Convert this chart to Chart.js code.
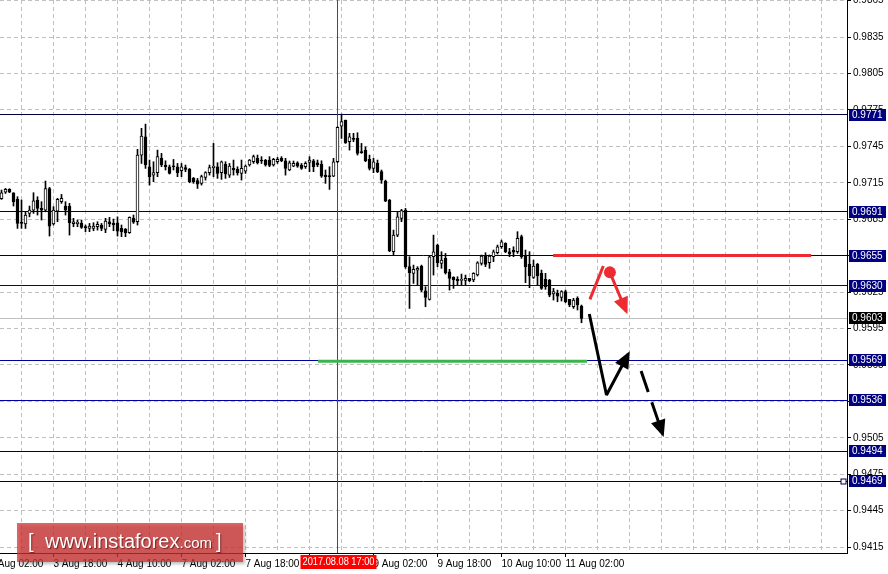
<!DOCTYPE html>
<html>
<head>
<meta charset="utf-8">
<script src="https://cdn.jsdelivr.net/npm/chart.js@4.4.0/dist/chart.umd.min.js"></script>
<style>
  html, body { margin: 0; padding: 0; background: #fff; }
  #wrap { width: 888px; height: 574px; position: relative; }
</style>
</head>
<body>
<div id="wrap"><canvas id="myChart"></canvas></div>
<script>
/* H1 candles, 3 Aug 05:00 .. 11 Aug 06:00 */
var opens = [0.97019,0.97073,0.97095,0.97068,0.97013,0.96826,0.96810,0.96898,0.96925,0.97008,
  0.96939,0.96925,0.97103,0.96810,0.96917,0.96994,0.96958,0.96958,0.96813,0.96813,
  0.96815,0.96788,0.96774,0.96774,0.96788,0.96802,0.96766,0.96829,0.96815,0.96821,
  0.96774,0.96766,0.96739,0.96857,0.96829,0.97378,0.97529,0.97282,0.97213,0.97233,
  0.97351,0.97296,0.97282,0.97290,0.97282,0.97249,0.97274,0.97260,0.97186,0.97167,
  0.97145,0.97194,0.97233,0.97274,0.97282,0.97233,0.97301,0.97213,0.97268,0.97260,
  0.97227,0.97246,0.97296,0.97323,0.97351,0.97337,0.97337,0.97337,0.97296,0.97323,
  0.97351,0.97331,0.97255,0.97287,0.97315,0.97296,0.97282,0.97318,0.97331,0.97315,
  0.97304,0.97213,0.97205,0.97205,0.97323,0.97617,0.97666,0.97488,0.97515,0.97515,
  0.97406,0.97419,0.97342,0.97268,0.97309,0.97241,0.97164,0.97008,0.96582,0.96719,
  0.96857,0.96925,0.96459,0.96404,0.96431,0.96464,0.96261,0.96190,0.96541,0.96637,
  0.96486,0.96527,0.96417,0.96371,0.96354,0.96346,0.96346,0.96362,0.96349,0.96390,
  0.96486,0.96546,0.96491,0.96541,0.96574,0.96623,0.96651,0.96582,0.96596,0.96582,
  0.96706,0.96546,0.96480,0.96371,0.96478,0.96404,0.96354,0.96349,0.96234,0.96239,
  0.96206,0.96253,0.96190,0.96129,0.96198,0.96135];
var highs = [0.97090,0.97103,0.97101,0.97068,0.97035,0.97008,0.96911,0.96958,0.97068,0.97035,
  0.96994,0.97164,0.97112,0.96953,0.97021,0.97054,0.96994,0.96980,0.96857,0.96843,
  0.96843,0.96802,0.96815,0.96821,0.96829,0.96815,0.96857,0.96865,0.96851,0.96869,
  0.96802,0.96774,0.96869,0.96884,0.97425,0.97598,0.97633,0.97337,0.97323,0.97419,
  0.97392,0.97331,0.97296,0.97342,0.97309,0.97309,0.97296,0.97268,0.97194,0.97186,
  0.97213,0.97241,0.97296,0.97474,0.97315,0.97329,0.97323,0.97309,0.97337,0.97282,
  0.97337,0.97296,0.97342,0.97378,0.97378,0.97365,0.97342,0.97365,0.97351,0.97359,
  0.97365,0.97351,0.97329,0.97329,0.97323,0.97309,0.97323,0.97365,0.97342,0.97337,
  0.97331,0.97255,0.97282,0.97351,0.97611,0.97716,0.97666,0.97557,0.97557,0.97562,
  0.97474,0.97446,0.97378,0.97351,0.97337,0.97255,0.97172,0.97013,0.96760,0.96911,
  0.96931,0.96939,0.96541,0.96472,0.96459,0.96472,0.96294,0.96546,0.96719,0.96645,
  0.96582,0.96568,0.96437,0.96376,0.96376,0.96398,0.96390,0.96362,0.96409,0.96500,
  0.96555,0.96574,0.96555,0.96596,0.96637,0.96678,0.96656,0.96610,0.96623,0.96747,
  0.96719,0.96596,0.96582,0.96513,0.96486,0.96431,0.96404,0.96354,0.96280,0.96266,
  0.96261,0.96266,0.96190,0.96198,0.96211,0.96143];
var lows = [0.97013,0.97062,0.97068,0.96958,0.96774,0.96774,0.96774,0.96869,0.96898,0.96884,
  0.96843,0.96911,0.96711,0.96802,0.96829,0.96980,0.96884,0.96719,0.96788,0.96788,
  0.96774,0.96747,0.96747,0.96755,0.96760,0.96755,0.96739,0.96788,0.96755,0.96711,
  0.96706,0.96706,0.96733,0.96815,0.96802,0.97309,0.97268,0.97131,0.97159,0.97200,
  0.97282,0.97255,0.97222,0.97255,0.97200,0.97200,0.97241,0.97150,0.97145,0.97103,
  0.97131,0.97172,0.97213,0.97200,0.97186,0.97178,0.97186,0.97194,0.97213,0.97213,
  0.97172,0.97227,0.97287,0.97309,0.97304,0.97309,0.97287,0.97282,0.97287,0.97309,
  0.97323,0.97213,0.97249,0.97282,0.97277,0.97260,0.97268,0.97241,0.97241,0.97282,
  0.97194,0.97145,0.97095,0.97200,0.97315,0.97515,0.97474,0.97419,0.97488,0.97378,
  0.97392,0.97323,0.97255,0.97233,0.97233,0.97145,0.96994,0.96582,0.96555,0.96706,
  0.96829,0.96445,0.96115,0.96321,0.96308,0.96253,0.96129,0.96184,0.96390,0.96459,
  0.96445,0.96398,0.96266,0.96280,0.96308,0.96308,0.96308,0.96335,0.96335,0.96382,
  0.96472,0.96459,0.96445,0.96500,0.96563,0.96610,0.96574,0.96541,0.96541,0.96568,
  0.96527,0.96327,0.96286,0.96362,0.96308,0.96272,0.96272,0.96211,0.96184,0.96170,
  0.96176,0.96162,0.96129,0.96115,0.96102,0.95997];
var closes = [0.97068,0.97095,0.97073,0.96994,0.96815,0.96815,0.96884,0.96925,0.97002,0.96939,
  0.96925,0.97103,0.96793,0.96925,0.97013,0.97021,0.96925,0.96821,0.96829,0.96826,
  0.96782,0.96780,0.96793,0.96793,0.96807,0.96774,0.96835,0.96810,0.96802,0.96752,
  0.96747,0.96739,0.96865,0.96826,0.97378,0.97534,0.97296,0.97200,0.97233,0.97365,
  0.97296,0.97282,0.97227,0.97282,0.97233,0.97282,0.97260,0.97159,0.97159,0.97139,
  0.97200,0.97233,0.97274,0.97287,0.97227,0.97323,0.97222,0.97287,0.97255,0.97233,
  0.97268,0.97287,0.97337,0.97365,0.97315,0.97329,0.97296,0.97293,0.97342,0.97342,
  0.97329,0.97268,0.97315,0.97309,0.97287,0.97268,0.97309,0.97337,0.97282,0.97296,
  0.97205,0.97200,0.97200,0.97323,0.97606,0.97653,0.97479,0.97529,0.97507,0.97392,
  0.97397,0.97331,0.97268,0.97323,0.97241,0.97172,0.96999,0.96588,0.96719,0.96869,
  0.96920,0.96459,0.96409,0.96437,0.96445,0.96266,0.96206,0.96541,0.96582,0.96491,
  0.96513,0.96409,0.96362,0.96349,0.96343,0.96354,0.96362,0.96343,0.96404,0.96491,
  0.96546,0.96478,0.96546,0.96582,0.96623,0.96664,0.96582,0.96563,0.96579,0.96692,
  0.96541,0.96459,0.96382,0.96464,0.96382,0.96280,0.96294,0.96225,0.96253,0.96217,
  0.96253,0.96170,0.96143,0.96184,0.96143,0.96033];

// time axis labels (bar index -> text)
var xTickIdx = [-3, 13, 29, 45, 61, 77, 93, 109, 125, 141];
var xTickText = ['3 Aug 02:00', '3 Aug 18:00', '4 Aug 10:00', '7 Aug 02:00', '7 Aug 18:00',
  '8 Aug 10:00', '9 Aug 02:00', '9 Aug 18:00', '10 Aug 10:00', '11 Aug 02:00'];
var yTicks = [0.9415, 0.9445, 0.9475, 0.9505, 0.9535, 0.9565, 0.9595, 0.9625, 0.9655,
  0.9685, 0.9715, 0.9745, 0.9775, 0.9805, 0.9835, 0.9865];

// horizontal levels
var levelValues = [0.9771, 0.9691, 0.9655, 0.9630, 0.9569, 0.9536, 0.9494, 0.9469];
var levelColors = ['#000040', '#000040', '#000040', '#0000a0', '#0000a0', '#0000a0', '#000040', '#000040'];

// vertical line
var crossIdx = 84;
var crossText = '2017.08.08 17:00';

// drawn objects (bar index, price)
var redLevel = [{x: 137.9, y: 0.9655}, {x: 202.4, y: 0.9655}];
var greenLevel = [{x: 79.1, y: 0.9568}, {x: 146.4, y: 0.9568}];
var redUp = [{x: 147.1, y: 0.9619}, {x: 150.45, y: 0.96464}];
var redDot = [{x: 152.1, y: 0.96412}];
var redDown = [{x: 152.1, y: 0.96412}, {x: 156.2, y: 0.96090}];
var blackPath = [{x: 146.95, y: 0.96069}, {x: 151.25, y: 0.95402}, {x: 156.7, y: 0.95740}];
var blackDash = [{x: 159.9, y: 0.95599}, {x: 165.3, y: 0.95080}];

var yMin = 0.94101, yMax = 0.98655;
var xMin = -0.375, xMax = 211.375;

var axisFont = { family: "'Liberation Sans', Arial, sans-serif", size: 10 };

var idx = opens.map(function (v, i) { return i; });
var wickData = idx.map(function (i) { return { x: i, y: [lows[i], highs[i]] }; });
var bodyData = idx.map(function (i) { return { x: i, y: [opens[i], closes[i]] }; });
var bodyFill = idx.map(function (i) { return closes[i] >= opens[i] ? '#ffffff' : '#000000'; });

function fontStr(f) { return f.size + 'px ' + f.family; }

var mtPlugin = {
  id: 'mt',
  beforeDatasetsDraw: function (chart) {
    var c = chart.ctx, a = chart.chartArea;
    var ys = chart.scales.y, xs = chart.scales.x;
    c.save();
    c.lineWidth = 1;
    // current price line
    var py = Math.floor(ys.getPixelForValue(closes[closes.length - 1])) + 0.5;
    c.strokeStyle = '#c0c0c0';
    c.beginPath(); c.moveTo(a.left, py); c.lineTo(a.right, py); c.stroke();
    levelValues.forEach(function (v, k) {
      var y = Math.floor(ys.getPixelForValue(v)) + 0.5;
      c.strokeStyle = levelColors[k];
      c.beginPath(); c.moveTo(a.left, y); c.lineTo(a.right, y); c.stroke();
    });
    // anchor square of the lowest level
    var ly = Math.floor(ys.getPixelForValue(levelValues[levelValues.length - 1])) + 0.5;
    c.fillStyle = '#ffffff';
    c.strokeStyle = '#000040';
    c.fillRect(a.right - 6, ly - 2.5, 5, 5);
    c.strokeRect(a.right - 6, ly - 2.5, 5, 5);
    var cx = Math.floor(xs.getPixelForValue(crossIdx)) + 0.5;
    c.strokeStyle = '#ff0000';
    c.beginPath(); c.moveTo(cx, a.top); c.lineTo(cx, a.bottom); c.stroke();
    c.restore();
  },
  afterDatasetsDraw: function (chart) {
    var c = chart.ctx;
    chart.data.datasets.forEach(function (ds, di) {
      if (!ds.arrow) return;
      var pts = chart.getDatasetMeta(di).data;
      var p = pts[pts.length - 2], q = pts[pts.length - 1];
      var ang = Math.atan2(q.y - p.y, q.x - p.x);
      var co = Math.cos(ang), si = Math.sin(ang);
      var tx = q.x + 3 * co, ty = q.y + 3 * si;
      var len = 17, hw = 7.5;
      c.save();
      c.fillStyle = ds.borderColor;
      c.beginPath();
      c.moveTo(tx, ty);
      c.lineTo(tx - len * co + hw * si, ty - len * si - hw * co);
      c.lineTo(tx - len * co - hw * si, ty - len * si + hw * co);
      c.closePath();
      c.fill();
      c.restore();
    });
  },
  afterDraw: function (chart) {
    var c = chart.ctx, a = chart.chartArea;
    var ys = chart.scales.y, xs = chart.scales.x;
    c.save();
    c.font = fontStr(axisFont);
    c.textBaseline = 'middle';
    c.textAlign = 'left';
    function box(v, bg) {
      var y = Math.round(ys.getPixelForValue(v));
      c.fillStyle = bg;
      c.fillRect(a.right + 2, y - 6, 37, 12);
      c.fillStyle = '#ffffff';
      c.fillText(v.toFixed(4), a.right + 5, y + 0.5, 32);
    }
    levelValues.forEach(function (v) { box(v, '#000080'); });
    box(closes[closes.length - 1], '#000000');

    // time label of the vertical line
    var cx = xs.getPixelForValue(crossIdx);
    c.fillStyle = '#ff0000';
    c.fillRect(cx - 37, a.bottom + 2, 76, 14);
    c.fillStyle = '#ffffff';
    c.textAlign = 'center';
    c.fillText(crossText, cx + 1, a.bottom + 9.5, 72);

    // watermark
    c.shadowColor = 'rgba(0,0,0,0.35)';
    c.shadowBlur = 3;
    c.shadowOffsetX = 2;
    c.shadowOffsetY = 2;
    c.fillStyle = 'rgba(210,50,50,0.74)';
    c.fillRect(17, 523, 226, 39);
    c.shadowColor = 'rgba(60,0,0,0.6)';
    c.shadowBlur = 1;
    c.shadowOffsetX = 1;
    c.shadowOffsetY = 1;
    c.fillStyle = '#ffffff';
    c.textAlign = 'left';
    c.textBaseline = 'alphabetic';
    c.font = "20px 'Liberation Sans', Arial, sans-serif";
    c.fillText('[', 28, 548);
    c.fillText('www.instaforex', 45, 548);
    var w = c.measureText('www.instaforex').width;
    c.font = "15px 'Liberation Sans', Arial, sans-serif";
    c.fillText('.com', 45 + w, 548);
    var w2 = c.measureText('.com').width;
    c.font = "20px 'Liberation Sans', Arial, sans-serif";
    c.fillText(']', 45 + w + w2 + 4, 548);
    c.restore();
  }
};

var ctx1 = document.getElementById('myChart').getContext('2d');
window.myChart = new Chart(ctx1, {
  type: 'bar',
  data: {
    datasets: [
      { type: 'line', data: redLevel, borderColor: '#ee2b30', borderWidth: 3, pointRadius: 0, order: 0 },
      { type: 'line', data: greenLevel, borderColor: '#3cb44b', borderWidth: 3, pointRadius: 0, order: 0 },
      { type: 'line', data: redUp, borderColor: '#ee2b30', borderWidth: 3, pointRadius: 0, order: 0 },
      { type: 'line', data: redDown, borderColor: '#ee2b30', borderWidth: 3, pointRadius: 0, order: 0, arrow: true },
      { type: 'line', data: redDot, borderColor: '#ee2b30', showLine: false, pointRadius: 6,
        pointBackgroundColor: '#ee2b30', pointBorderWidth: 0, order: 0 },
      { type: 'line', data: blackPath, borderColor: '#000000', borderWidth: 3, pointRadius: 0,
        borderJoinStyle: 'bevel', order: 0, arrow: true },
      { type: 'line', data: blackDash, borderColor: '#000000', borderWidth: 3, pointRadius: 0,
        borderDash: [22, 11], order: 0, arrow: true },
      { label: 'body', data: bodyData, backgroundColor: bodyFill, borderColor: '#000000',
        borderWidth: 1, borderSkipped: false, barThickness: 3, grouped: false, minBarLength: 1, order: 1 },
      { label: 'wick', data: wickData, backgroundColor: '#000000', borderWidth: 0,
        barThickness: 1, grouped: false, order: 2 }
    ]
  },
  options: {
    animation: false,
    responsive: true,
    maintainAspectRatio: false,
    layout: { padding: 0, autoPadding: false },
    plugins: {
      legend: { display: false },
      tooltip: { enabled: false }
    },
    scales: {
      x: {
        type: 'linear',
        min: xMin,
        max: xMax,
        offset: false,
        afterBuildTicks: function (scale) {
          var t = [];
          for (var v = -3; v <= 211; v += 8) t.push({ value: v });
          scale.ticks = t;
        },
        afterFit: function (scale) {
          scale.height = 21;
          scale.paddingLeft = 0;
          scale.paddingRight = 0;
        },
        grid: {
          offset: false,
          color: '#c0c0c0',
          tickLength: 4,
          tickColor: function (c) {
            return c.tick && xTickIdx.indexOf(c.tick.value) >= 0 ? '#000000' : 'rgba(0,0,0,0)';
          }
        },
        border: { color: '#000000', width: 1, dash: [4, 3] },
        ticks: {
          autoSkip: false,
          maxRotation: 0,
          minRotation: 0,
          align: 'start',
          padding: 1,
          color: '#000000',
          font: axisFont,
          callback: function (value) {
            var k = xTickIdx.indexOf(value);
            return k >= 0 ? xTickText[k] : '';
          }
        }
      },
      y: {
        position: 'right',
        min: yMin,
        max: yMax,
        afterBuildTicks: function (scale) {
          scale.ticks = yTicks.map(function (v) { return { value: v }; });
        },
        afterFit: function (scale) {
          scale.width = 41;
          scale.paddingTop = 0;
          scale.paddingBottom = 0;
        },
        grid: { color: '#c0c0c0', tickLength: 4, tickColor: '#000000' },
        border: { color: '#000000', width: 1, dash: [4, 3] },
        ticks: {
          padding: 2,
          color: '#000000',
          font: axisFont,
          callback: function (value) { return value.toFixed(4); }
        }
      }
    }
  },
  plugins: [mtPlugin]
});
</script>
</body>
</html>
